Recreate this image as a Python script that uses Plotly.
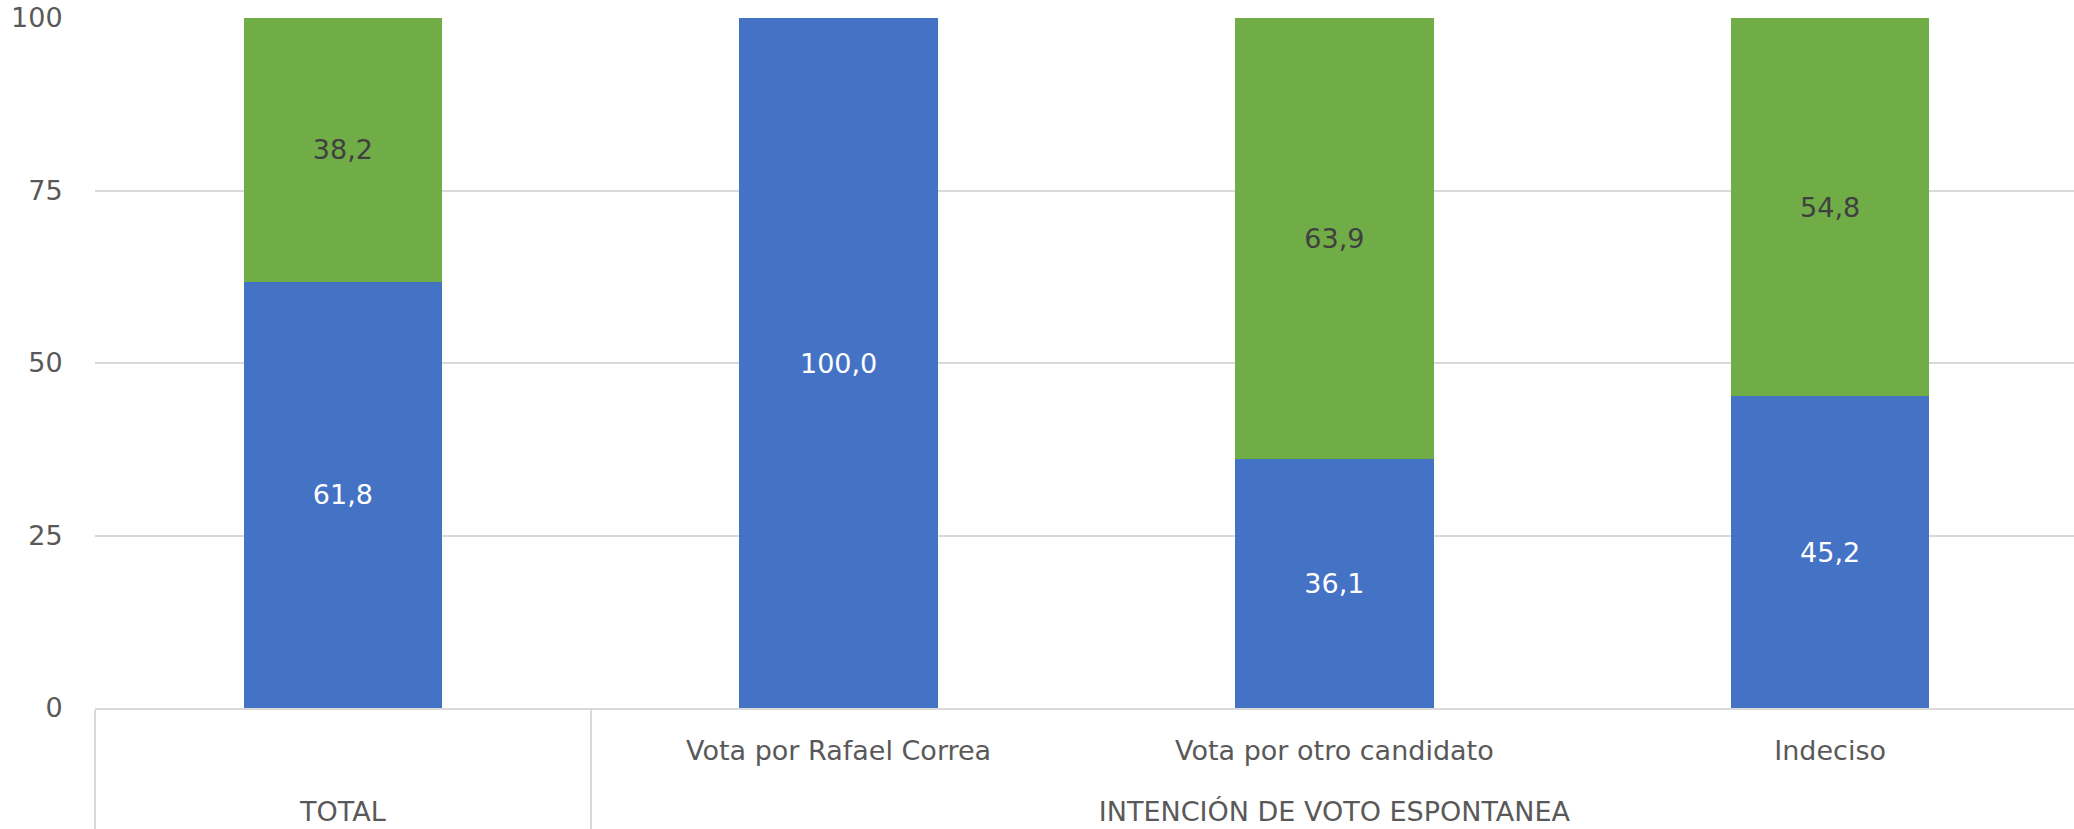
import plotly.graph_objects as go

# ── Data ────────────────────────────────────────────────────────────────────
groups = ["TOTAL", "INTENCIÓN DE VOTO ESPONTANEA", "INTENCIÓN DE VOTO ESPONTANEA",
          "INTENCIÓN DE VOTO ESPONTANEA"]
categories = [" ", "Vota por Rafael Correa", "Vota por otro candidato", "Indeciso"]
si_values = [61.8, 100.0, 36.1, 45.2]
no_values = [38.2, 0.0, 63.9, 54.8]
y_ticks = [0, 25, 50, 75, 100]

BLUE = "#4472C4"
GREEN = "#70AD47"
GRID = "#D9D9D9"
TEXT = "#595959"
FONT = "'DejaVu Sans', 'Noto Sans', sans-serif"
SIZE = 27


def small(s):
    return f"<span style='font-size:{SIZE}px'>{s}</span>"


# x tick font is set larger than the text itself so the line spacing grows;
# the extra blank line under the inner labels pushes the group row down
inner = [small(c) + "<br> " for c in categories]
outer = [small(g) for g in groups]
x = [outer, inner]

fig = go.Figure()

fig.add_trace(go.Bar(
    x=x,
    y=si_values,
    name="Sí",
    marker=dict(color=BLUE, line=dict(width=0)),
    width=0.4,
    texttemplate="%{y:.1f}",
    textposition="inside",
    insidetextanchor="middle",
    textangle=0,
    textfont=dict(color="white", size=SIZE, family=FONT),
))

# the empty green segment should carry no label
no_text = [f"{v:.1f}".replace(".", ",") if v > 0 else "" for v in no_values]
fig.add_trace(go.Bar(
    x=x,
    y=no_values,
    name="No",
    marker=dict(color=GREEN, line=dict(width=0)),
    width=0.4,
    text=no_text,
    texttemplate="%{text}",
    textposition="inside",
    insidetextanchor="middle",
    textangle=0,
    textfont=dict(color="#404040", size=SIZE, family=FONT),
))

# figure is a few px wider than the window so the last divider falls off-screen
fig.update_layout(
    barmode="stack",
    separators=",.",
    width=2078,
    height=829,
    margin=dict(l=95, r=0, t=18, b=121),
    plot_bgcolor="white",
    paper_bgcolor="white",
    font=dict(family=FONT, color=TEXT, size=SIZE),
    showlegend=False,
    xaxis=dict(
        type="multicategory",
        automargin=False,
        showgrid=False,
        showline=True,
        linecolor=GRID,
        linewidth=2,
        ticks="outside",
        ticklen=43,
        tickcolor="rgba(0,0,0,0)",
        ticklabelstandoff=13,
        tickfont=dict(size=31, color=TEXT),
        showdividers=True,
        dividercolor=GRID,
        dividerwidth=2,
        range=[-0.5, 3.5],
    ),
    yaxis=dict(
        automargin=False,
        range=[0, 100],
        tickvals=y_ticks,
        showgrid=True,
        gridcolor=GRID,
        gridwidth=2,
        zeroline=False,
        showline=False,
        tickfont=dict(size=SIZE, color=TEXT),
        ticks="outside",
        ticklen=26,
        tickcolor="rgba(0,0,0,0)",
        ticklabeloverflow="allow",
    ),
)

# drop the browser's default 8px body margin and any scrollbars
fig.write_html(
    "out.html",
    config={"displayModeBar": False},
    post_script="document.body.style.margin = '0'; document.body.style.overflow = 'hidden';",
)
